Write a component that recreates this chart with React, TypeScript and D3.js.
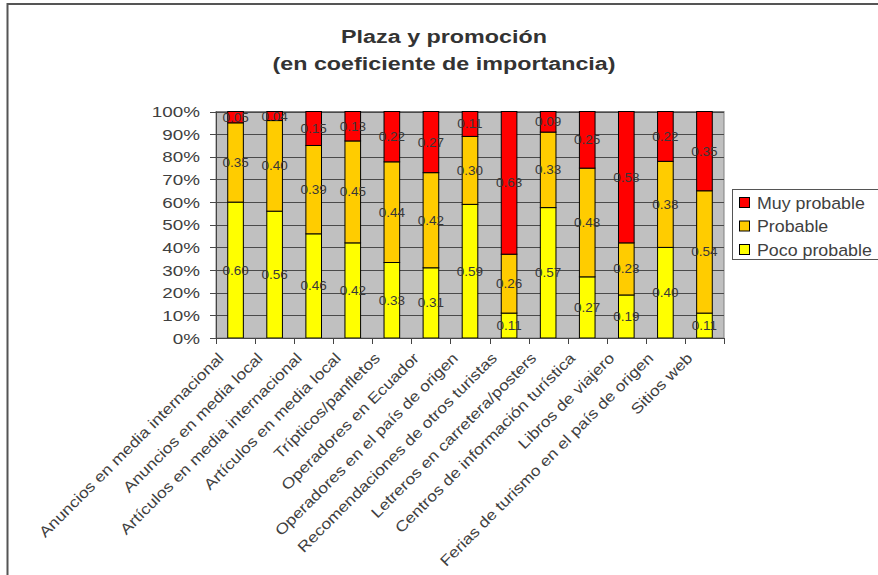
import React from "react";
import * as d3 from "d3";

const categories = [
  "Anuncios en media internacional",
  "Anuncios en media local",
  "Artículos en media internacional",
  "Artículos en media local",
  "Trípticos/panfletos",
  "Operadores en Ecuador",
  "Operadores en el país de origen",
  "Recomendaciones de otros turistas",
  "Letreros en carretera/posters",
  "Centros de información turística",
  "Libros de viajero",
  "Ferias de turismo en el país de origen",
  "Sitios web",
];
const pocoProbable = [0.6, 0.56, 0.46, 0.42, 0.33, 0.31, 0.59, 0.11, 0.57, 0.27, 0.19, 0.4, 0.11];
const probable = [0.35, 0.4, 0.39, 0.45, 0.44, 0.42, 0.3, 0.26, 0.33, 0.48, 0.23, 0.38, 0.54];
const muyProbable = [0.05, 0.04, 0.15, 0.13, 0.22, 0.27, 0.11, 0.63, 0.09, 0.25, 0.58, 0.22, 0.35];
const seriesNames = ["Poco probable", "Probable", "Muy probable"];
const seriesColors = ["#FFFF00", "#FFCC00", "#FF0000"];
const yTicks = [0, 0.1, 0.2, 0.3, 0.4, 0.5, 0.6, 0.7, 0.8, 0.9, 1.0];
const titleLines = ["Plaza y promoción", "(en coeficiente de importancia)"];

export default function App() {
  const W = 878, H = 575;
  const left = 216, right = 724, top = 111.5, bottom = 338;
  const x = d3.scaleBand<string>().domain(categories).range([left, right]).paddingInner(0.6).paddingOuter(0.3);
  const xb = d3.scaleBand<string>().domain(categories).range([left, right]);
  const y = d3.scaleLinear().domain([0, 1]).range([bottom, top]);
  const rows = categories.map((c, i) => ({ cat: c, s0: pocoProbable[i], s1: probable[i], s2: muyProbable[i] }));
  const stack = d3.stack<any>().keys(["s0", "s1", "s2"]).offset(d3.stackOffsetExpand);
  const stacked = stack(rows);
  const txt = "#404040";
  const font = "'Liberation Sans', Arial, sans-serif";
  const legendItems = [2, 1, 0];

  return (
    <svg width={W} height={H} style={{ position: "absolute", left: 0, top: 0 }} fontFamily={font}>
      <rect x={0} y={0} width={W} height={H} fill="#fff" />
      <path d={`M7.5,${H} V4 H878`} fill="none" stroke="#555" strokeWidth={2} />
      {titleLines.map((t, i) => (
        <text key={i} transform={`translate(444,${43 + i * 27}) scale(1.26,1)`} textAnchor="middle" fontSize={18.5} fontWeight="bold" fill="#333">{t}</text>
      ))}
      <rect x={left} y={top} width={right - left} height={bottom - top} fill="#C0C0C0" stroke="#808080" strokeWidth={1} />
      {yTicks.map((t) => (
        <g key={t}>
          <line x1={left} x2={right} y1={Math.round(y(t)) + 0.5} y2={Math.round(y(t)) + 0.5} stroke="#4a4a4a" strokeWidth={1} />
          <line x1={left - 6} x2={left} y1={Math.round(y(t)) + 0.5} y2={Math.round(y(t)) + 0.5} stroke="#4a4a4a" />
          <text transform={`translate(${left - 16},${y(t) + 5.5}) scale(1.3,1)`} textAnchor="end" fontSize={14.5} fill={txt}>{`${Math.round(t * 100)}%`}</text>
        </g>
      ))}
      {stacked.map((s, si) =>
        s.map((d, i) => (
          <rect key={`${si}-${i}`} x={x(categories[i])!} width={x.bandwidth()} y={y(d[1])} height={y(d[0]) - y(d[1])} fill={seriesColors[si]} stroke="#000" strokeWidth={1} />
        ))
      )}
      {stacked.map((s, si) =>
        s.map((d, i) => {
          const v = [pocoProbable, probable, muyProbable][si][i];
          return (
            <text key={`l${si}-${i}`} transform={`translate(${x(categories[i])! + x.bandwidth() / 2},${y((d[0] + d[1]) / 2) + 4.5}) scale(1.08,1)`} textAnchor="middle" fontSize={12.5} fill="#383838">{v.toFixed(2)}</text>
          );
        })
      )}
      <line x1={left + 0.5} x2={left + 0.5} y1={top} y2={bottom} stroke="#444" />
      <line x1={left} x2={right} y1={bottom + 0.5} y2={bottom + 0.5} stroke="#444" />
      {categories.concat([""]).map((c, i) => {
        const xx = Math.round(left + xb.step() * i) + 0.5;
        return <line key={`t${i}`} x1={xx} x2={xx} y1={bottom} y2={bottom + 6} stroke="#444" />;
      })}
      {categories.map((c) => {
        const cx = xb(c)! + xb.bandwidth() / 2;
        return (
          <text key={`x${c}`} transform={`translate(${cx - 11},${bottom + 21}) rotate(-45) scale(1.17,1)`} textAnchor="end" fontSize={15} fill={txt}>{c}</text>
        );
      })}
      <rect x={732.5} y={189.5} width={160} height={70} fill="#fff" stroke="#555" />
      {legendItems.map((si, k) => (
        <g key={si}>
          <rect x={739.5} y={197.5 + k * 23.5} width={10} height={10} fill={seriesColors[si]} stroke="#000" />
          <text transform={`translate(757,${208.5 + k * 23.5}) scale(1.08,1)`} fontSize={16.5} fill={txt}>{seriesNames[si]}</text>
        </g>
      ))}
    </svg>
  );
}
